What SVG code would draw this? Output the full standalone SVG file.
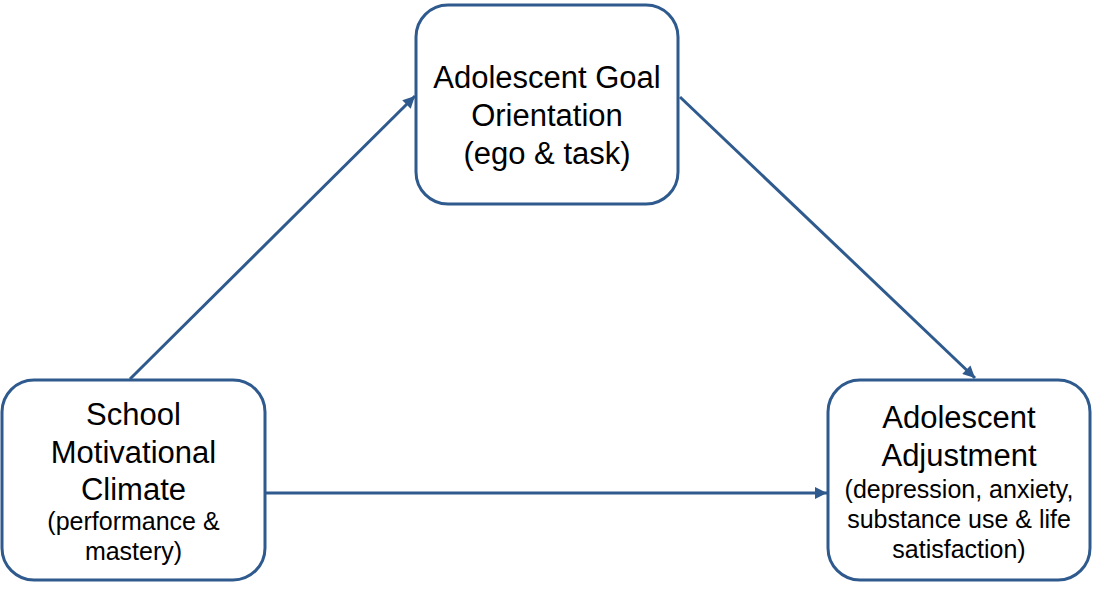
<svg xmlns="http://www.w3.org/2000/svg" width="1094" height="593" viewBox="0 0 1094 593">
<style>
.box{fill:#ffffff;stroke:#2F5A8E;stroke-width:3}
.edge{stroke:#2F5A8E;stroke-width:3;fill:none}
.t{font-family:"Liberation Sans",Arial,sans-serif;font-size:31px;fill:#000;text-anchor:middle}
.s{font-family:"Liberation Sans",Arial,sans-serif;font-size:25px;fill:#000;text-anchor:middle}
</style>
<defs>
<marker id="arr" viewBox="0 0 10 10" refX="10" refY="5" markerWidth="4.2" markerHeight="4" orient="auto" markerUnits="strokeWidth">
<path d="M0,0 L10,5 L0,10 z" fill="#2F5A8E"/>
</marker>
</defs>
<rect width="1094" height="593" fill="#ffffff"/>
<g id="connectors">
<line class="edge" x1="130" y1="379" x2="415" y2="96" marker-end="url(#arr)"/>
<line class="edge" x1="680" y1="97" x2="975" y2="378" marker-end="url(#arr)"/>
<line class="edge" x1="265" y1="493" x2="827" y2="493" marker-end="url(#arr)"/>
</g>
<g id="goal">
<rect class="box" x="416" y="5" width="262" height="199" rx="32"/>
<text class="t" x="547" y="88">Adolescent Goal</text>
<text class="t" x="547" y="126">Orientation</text>
<text class="t" x="547" y="164">(ego &amp; task)</text>
</g>
<g id="climate">
<rect class="box" x="2" y="380" width="263" height="200" rx="32"/>
<text class="t" x="133.5" y="425">School</text>
<text class="t" x="133.5" y="463">Motivational</text>
<text class="t" x="133.5" y="500">Climate</text>
<text class="s" x="133.5" y="530">(performance &amp;</text>
<text class="s" x="133.5" y="560">mastery)</text>
</g>
<g id="adjustment">
<rect class="box" x="828" y="380" width="262" height="200" rx="32"/>
<text class="t" x="959" y="428">Adolescent</text>
<text class="t" x="959" y="466">Adjustment</text>
<text class="s" x="959" y="498">(depression, anxiety,</text>
<text class="s" x="959" y="528">substance use &amp; life</text>
<text class="s" x="959" y="558">satisfaction)</text>
</g>
</svg>
